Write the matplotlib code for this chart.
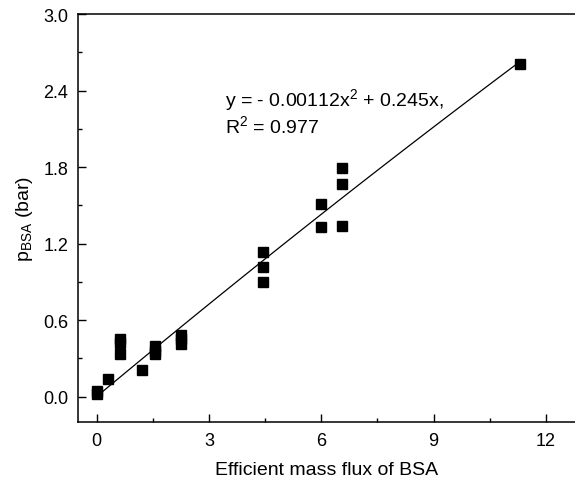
import numpy as np
import matplotlib.pyplot as plt
from matplotlib.ticker import MultipleLocator

plt.rcParams['font.family'] = ['Liberation Sans', 'DejaVu Sans']
plt.rcParams['mathtext.fontset'] = 'custom'
plt.rcParams['mathtext.rm'] = 'Liberation Sans'
plt.rcParams['mathtext.it'] = 'Liberation Sans'

# Datos
flux = [0.0, 0.0, 0.30, 0.62, 0.62, 0.62, 1.2, 1.57, 1.57, 1.57,
        2.25, 2.25, 2.25, 4.44, 4.44, 4.44, 5.99, 5.99, 6.55, 6.55, 6.55, 11.31]
p_bsa = [0.02, 0.04, 0.14, 0.33, 0.42, 0.45, 0.21, 0.33, 0.36, 0.40,
         0.41, 0.45, 0.48, 0.90, 1.02, 1.13, 1.33, 1.51, 1.34, 1.67, 1.79, 2.61]

# Ajuste cuadratico
a2 = -0.00112
a1 = 0.245

fig = plt.figure(figsize=(5.75, 4.85), dpi=100)
ax = fig.add_axes([0.1357, 0.1278, 1 - 0.1357, 0.841])

xf = np.linspace(0, max(flux), 100)
ax.plot(xf, a2 * xf**2 + a1 * xf, color='black', lw=0.9)
ax.plot(flux, p_bsa, 's', color='black', ms=7, mec='black')

ax.text(3.42, 2.24, 'y = - 0.00112x$^{2}$ + 0.245x,\nR$^{2}$ = 0.977',
        fontsize=14, va='center', ha='left', linespacing=1.1)

ax.set_xlim(-0.5, 12.78)
ax.set_ylim(-0.2, 3.0)
ax.xaxis.set_major_locator(MultipleLocator(3))
ax.xaxis.set_minor_locator(MultipleLocator(1.5))
ax.yaxis.set_major_locator(MultipleLocator(0.6))
ax.yaxis.set_minor_locator(MultipleLocator(0.3))
ax.yaxis.set_major_formatter(plt.FormatStrFormatter('%.1f'))
ax.tick_params(which='major', direction='in', length=5.5, width=1, labelsize=13, pad=7)
ax.tick_params(which='minor', direction='in', length=3, width=1)
ax.spines['right'].set_visible(False)
for s in ['left', 'top', 'bottom']:
    ax.spines[s].set_linewidth(1.1)

ax.set_xlabel('Efficient mass flux of BSA', fontsize=14, labelpad=9)
ax.set_ylabel('p$_{\\mathrm{BSA}}$ (bar)', fontsize=14, labelpad=6)

fig.savefig('out.png', dpi=100)
